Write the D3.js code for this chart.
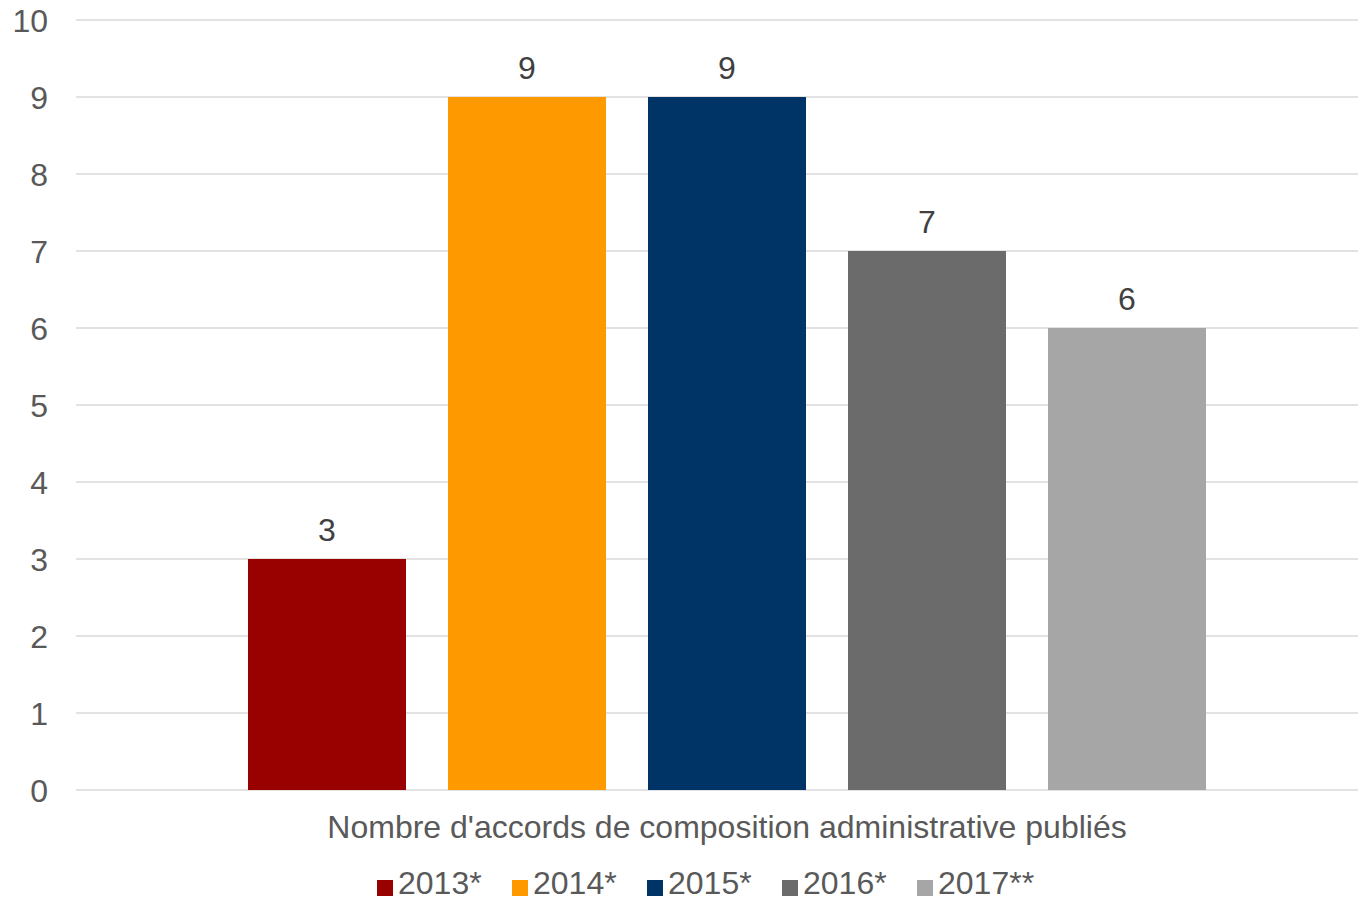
<!DOCTYPE html>
<html><head><meta charset="utf-8">
<script src="https://cdn.jsdelivr.net/npm/d3@7"></script>
<style>body{margin:0;background:#fff}svg{display:block}text{font-family:"Liberation Sans",Arial,sans-serif}</style>
</head><body><svg id="c" width="1358" height="901"></svg>
<script>
const categories = ["Nombre d'accords de composition administrative publiés"];
const seriesNames = ["2013*", "2014*", "2015*", "2016*", "2017**"];
const seriesValues = [3, 9, 9, 7, 6];
const seriesColors = ["#990000", "#FF9900", "#003366", "#6B6B6B", "#A6A6A6"];
const yTicks = [0,1,2,3,4,5,6,7,8,9,10];

const svg = d3.select("#c");
const y = d3.scaleLinear().domain([0,10]).range([790,20]);
const x0 = d3.scaleBand().domain(categories).range([76,1378]).paddingInner(0).paddingOuter(0.151);
const x1 = d3.scaleBand().domain(seriesNames).range([0, x0.bandwidth()]).paddingInner(0.21).paddingOuter(0.105);

// gridlines
svg.append("g").selectAll("line").data(yTicks).join("line")
  .attr("x1",76).attr("x2",1358).attr("y1",d=>y(d)).attr("y2",d=>y(d))
  .attr("stroke","#d9d9d9").attr("stroke-width",1.5);

// y labels
svg.append("g").selectAll("text").data(yTicks).join("text")
  .attr("x",48).attr("y",d=>y(d)).attr("dy","0.36em").attr("text-anchor","end")
  .attr("font-size",32).attr("fill","#595959").text(d=>d);

const g = svg.append("g").attr("transform",`translate(${x0(categories[0])},0)`);
const data = seriesNames.map((s,i)=>({s, v:seriesValues[i], c:seriesColors[i]}));
g.selectAll("rect").data(data).join("rect")
  .attr("x",d=>x1(d.s)).attr("width",x1.bandwidth())
  .attr("y",d=>y(d.v)).attr("height",d=>y(0)-y(d.v)).attr("fill",d=>d.c);
g.selectAll("text.v").data(data).join("text").attr("class","v")
  .attr("x",d=>x1(d.s)+x1.bandwidth()/2).attr("y",d=>y(d.v)-18)
  .attr("text-anchor","middle").attr("font-size",32).attr("fill","#404040").text(d=>d.v);

// category label
svg.append("text").attr("x",x0(categories[0])+x0.bandwidth()/2).attr("y",838)
  .attr("text-anchor","middle").attr("font-size",32).attr("fill","#595959").text(categories[0]);

// legend
const lg = svg.append("g");
data.forEach((d,i)=>{
  const lx = 377 + i*135;
  lg.append("rect").attr("x",lx).attr("y",880).attr("width",16).attr("height",16).attr("fill",d.c);
  lg.append("text").attr("x",lx+21).attr("y",894).attr("font-size",32).attr("fill","#595959").text(d.s);
});
</script></body></html>
